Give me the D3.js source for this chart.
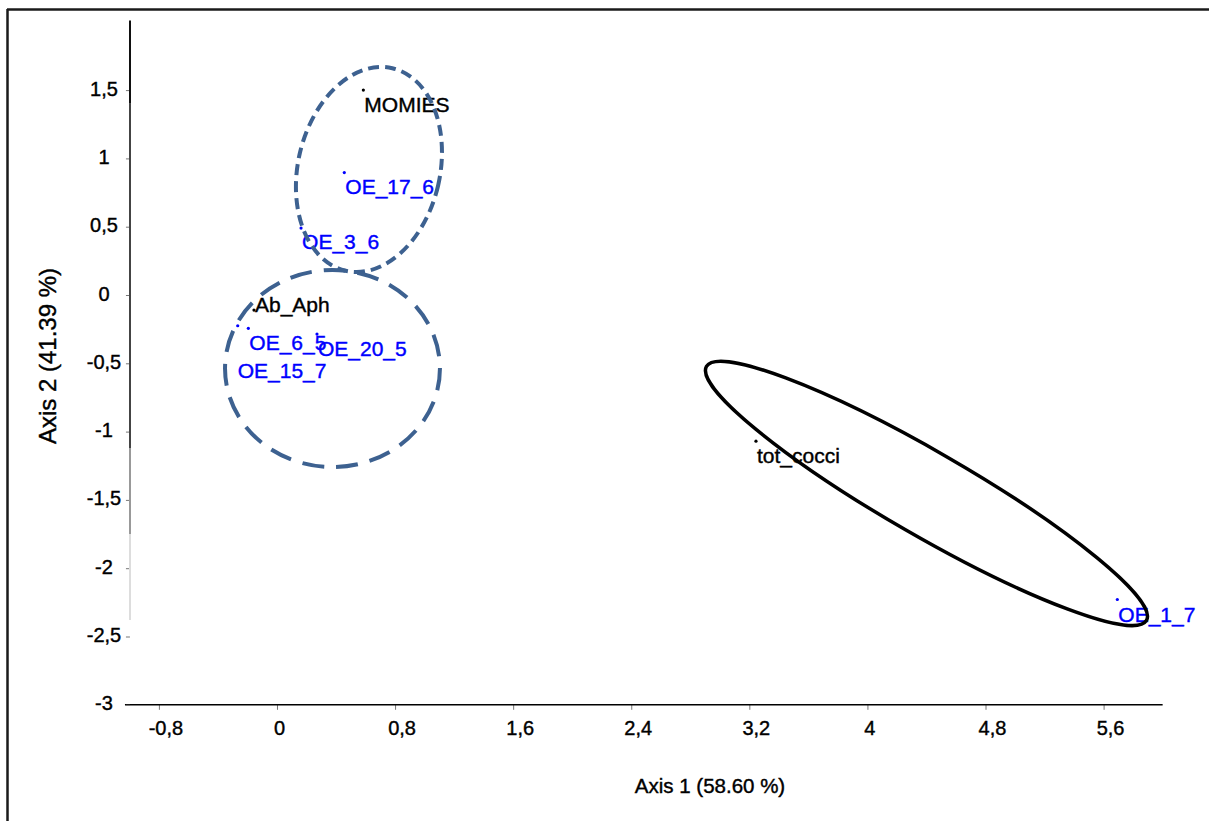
<!DOCTYPE html>
<html>
<head>
<meta charset="utf-8">
<script src="https://cdnjs.cloudflare.com/ajax/libs/d3/7.8.5/d3.min.js"></script>
<style>
  body { margin: 0; background: #fff; }
  svg { display: block; font-family: "Liberation Sans", Arial, sans-serif; }
  text { stroke-width: 0.4px; }
</style>
</head>
<body>
<div id="chart-area"></div>
<script>
// points (variables in black, observations in blue)
var names = ["MOMIES", "OE_17_6", "OE_3_6", "Ab_Aph", "OE_6_5", "OE_15_7", "OE_20_5", "tot_cocci", "OE_1_7"];
var axis1 = [0.585, 0.456, 0.163, -0.156, -0.194, -0.266, 0.271, 3.245, 5.693];
var axis2 = [1.50, 0.896, 0.49, -0.11, -0.244, -0.225, -0.286, -1.07, -2.229];
var kinds = ["var", "obs", "obs", "var", "obs", "obs", "obs", "var", "obs"];

// ellipses: centre, half axes, tilt (deg)
var ellCx = [0.623, 0.376, 4.40];
var ellCy = [0.919, -0.538, -1.453];
var ellRx = [0.481, 0.728, 1.721];
var ellRy = [0.761, 0.721, 0.307];
var ellAngle = [13, 0, 30];

var xTicks = [-0.8, 0, 0.8, 1.6, 2.4, 3.2, 4, 4.8, 5.6];
var yTicks = [1.5, 1, 0.5, 0, -0.5, -1, -1.5, -2, -2.5, -3];

var width = 1209, height = 821;

var svg = d3.select("#chart-area").append("svg")
  .attr("width", width)
  .attr("height", height);

svg.append("rect")
  .attr("width", width)
  .attr("height", height)
  .attr("fill", "#fff");

// frame (top + left only show)
svg.append("line")
  .attr("x1", 7).attr("y1", 9.5).attr("x2", width).attr("y2", 9.5)
  .attr("stroke", "#1a1a1a").attr("stroke-width", 2.5);
svg.append("line")
  .attr("x1", 7.5).attr("y1", 9).attr("x2", 7.5).attr("y2", height)
  .attr("stroke", "#1a1a1a").attr("stroke-width", 2.5);

var x = d3.scaleLinear().domain([-0.8, 5.6]).range([158.9, 1103.6]);
var y = d3.scaleLinear().domain([-3, 1.5]).range([704.8, 90.1]);

function fmt(v) { return String(v).replace(".", ","); }

// x axis
var xAxis = svg.append("g")
  .attr("transform", "translate(0," + y(-3) + ")")
  .call(d3.axisBottom(x).tickValues(xTicks).tickSize(5).tickFormat(fmt));
xAxis.select(".domain").remove();
xAxis.selectAll(".tick line").attr("stroke", "#777");
xAxis.selectAll(".tick text")
  .attr("y", 16)
  .attr("dx", function(d) { return fmt(d).indexOf(",") >= 0 ? 6.5 : 2; })
  .style("font-size", "20px")
  .attr("fill", "#000")
  .attr("stroke", "#000");
svg.append("line")
  .attr("x1", x(-1.03)).attr("x2", x(6.0))
  .attr("y1", y(-3)).attr("y2", y(-3))
  .attr("stroke", "#000").attr("stroke-width", 1.5);

// y axis
var yAxis = svg.append("g")
  .attr("transform", "translate(" + x(-1.03) + ",0)")
  .call(d3.axisLeft(y).tickValues(yTicks).tickSize(4).tickFormat(fmt));
yAxis.select(".domain").remove();
yAxis.selectAll(".tick line").attr("stroke", "#777").attr("transform", "translate(5,0)");
yAxis.selectAll(".tick text")
  .attr("x", -(x(-1.03) - 104))
  .attr("dy", "0.25em")
  .attr("text-anchor", "middle")
  .style("font-size", "20px")
  .attr("fill", "#000")
  .attr("stroke", "#000");

// y axis line fades towards the bottom
var ySegs = [[2.01, 1.4, "#111"], [1.4, -1.12, "#444"], [-1.12, -1.75, "#999"], [-1.75, -2.38, "#ddd"]];
svg.selectAll(".yseg").data(ySegs).enter()
  .append("line")
    .attr("x1", 130).attr("x2", 130)
    .attr("y1", function(d) { return y(d[0]); })
    .attr("y2", function(d) { return y(d[1]); })
    .attr("stroke", function(d) { return d[2]; })
    .attr("stroke-width", 2);

// axis titles
svg.append("text")
  .attr("x", 710).attr("y", 793)
  .attr("text-anchor", "middle")
  .attr("stroke", "#000")
  .style("font-size", "20.5px")
  .text("Axis 1 (58.60 %)");
svg.append("text")
  .attr("transform", "translate(56,356) rotate(-90)")
  .attr("text-anchor", "middle")
  .attr("stroke", "#000")
  .style("font-size", "24px")
  .text("Axis 2 (41.39 %)");

// points + labels
var labelDx = [1, 1, 1, 1, 1, 0, 1, 1, 1];
var labelDy = [22, 21, 21, 2, 22, 52, 22, 22, 23];
var pts = names.map(function(n, i) {
  return { name: n, a1: axis1[i], a2: axis2[i], kind: kinds[i], dx: labelDx[i], dy: labelDy[i] };
});
function col(d) { return d.kind === "obs" ? "#0000ff" : "#000"; }

svg.selectAll(".pt").data(pts).enter()
  .append("circle")
    .attr("cx", function(d) { return x(d.a1); })
    .attr("cy", function(d) { return y(d.a2); })
    .attr("r", 1.6)
    .attr("fill", col);

svg.selectAll(".lbl").data(pts).enter()
  .append("text")
    .attr("x", function(d) { return x(d.a1) + d.dx; })
    .attr("y", function(d) { return y(d.a2) + d.dy; })
    .style("font-size", "21px")
    .attr("fill", col)
    .attr("stroke", col)
    .text(function(d) { return d.name; });

// ellipses
var ells = ellCx.map(function(c, i) {
  return { cx: c, cy: ellCy[i], rx: ellRx[i], ry: ellRy[i], angle: ellAngle[i] };
});
var ellStroke = ["#3d6190", "#3d6190", "#000"];
var ellDash = ["11,6", "22,12", null];
var ellWidth = [4, 4, 3.5];
svg.selectAll(".ell").data(ells).enter()
  .append("ellipse")
    .attr("transform", function(d) {
      return "translate(" + x(d.cx) + "," + y(d.cy) + ") rotate(" + d.angle + ")";
    })
    .attr("rx", function(d) { return x(d.rx) - x(0); })
    .attr("ry", function(d) { return y(0) - y(d.ry); })
    .attr("fill", "none")
    .attr("stroke", function(d, i) { return ellStroke[i]; })
    .attr("stroke-width", function(d, i) { return ellWidth[i]; })
    .attr("stroke-dasharray", function(d, i) { return ellDash[i]; });
</script>
</body>
</html>
